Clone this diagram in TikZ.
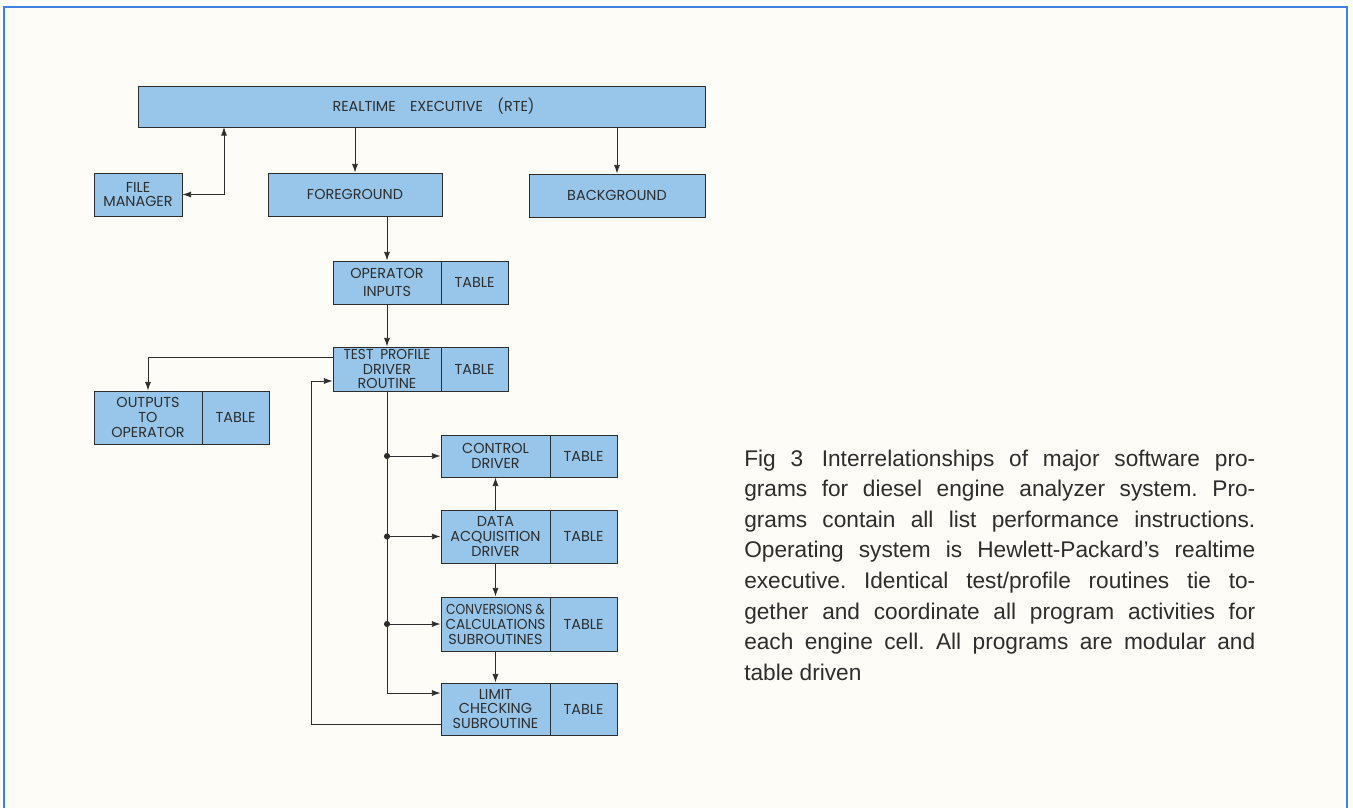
\documentclass[tikz,border=0pt]{standalone}
\usepackage{fontspec}
\usepackage{graphicx}
\setmainfont{Poppins}
\newfontfamily\capfont{Liberation Sans}
\usetikzlibrary{arrows.meta,calc}
\definecolor{boxblue}{RGB}{152,198,234}
\definecolor{frameblue}{RGB}{65,130,225}
\definecolor{ink}{RGB}{45,45,45}
\definecolor{paper}{RGB}{253,252,246}
\begin{document}
\frenchspacing
\begin{tikzpicture}[x=0.75pt,y=-0.75pt,
  sz/.style 2 args={minimum width=#1*0.75pt,minimum height=#2*0.75pt},
  blk/.style={draw=ink,line width=0.7pt,fill=boxblue,inner sep=0pt,align=center,
    font=\fontsize{10.8}{11.2}\selectfont,text=ink},
  link/.style={draw=ink,line width=0.65pt},
  arr/.style={link,-{Latex[length=6.5pt,width=4.5pt]}},
  darr/.style={link,{Latex[length=6.5pt,width=4.5pt]}-{Latex[length=6.5pt,width=4.5pt]}},
  capline/.style={anchor=base west,inner sep=0pt,text=ink,font=\capfont\fontsize{17}{20}\selectfont}]
\fill[paper] (0,0) rectangle (1353,808);
\useasboundingbox (0,0) rectangle (1353,808);
\draw[frameblue,line width=2pt] (4,808) -- (4,7) -- (1347,7) -- (1347,808);

% top level
\node[blk,sz={567}{41}] (rte) at (421.5,106.5) {\hspace*{18pt}REALTIME\quad EXECUTIVE\quad (RTE)};
\node[blk,sz={88}{43}] (fm) at (138,194.5) {FILE\\MANAGER};
\node[blk,sz={174}{43}] (fg) at (355,194.5) {FOREGROUND};
\node[blk,sz={176}{43}] (bg) at (617,195.5) {BACKGROUND};

% program boxes with tables
\node[blk,sz={108}{43}] (opinL) at (387,282.5) {OPERATOR\\[2.5pt]INPUTS};
\node[blk,sz={67}{43}] (opinT) at (474.5,282.5) {TABLE};
\node[blk,sz={108}{44}] (tpL) at (387,369) {\scalebox{0.95}[1]{TEST\enspace PROFILE}\\DRIVER\\ROUTINE};
\node[blk,sz={67}{44}] (tpT) at (474.5,369) {TABLE};
\node[blk,sz={108}{53}] (outL) at (148,417.5) {OUTPUTS\\TO\\OPERATOR};
\node[blk,sz={67}{53}] (outT) at (235.5,417.5) {TABLE};
\node[blk,sz={109}{42}] (cdL) at (495.5,456) {CONTROL\\DRIVER};
\node[blk,sz={67}{42}] (cdT) at (583.5,456) {TABLE};
\node[blk,sz={109}{53}] (daL) at (495.5,536.5) {DATA\\ACQUISITION\\DRIVER};
\node[blk,sz={67}{53}] (daT) at (583.5,536.5) {TABLE};
\node[blk,sz={109}{54}] (ccL) at (495.5,624) {\scalebox{0.86}[1]{CONVERSIONS \&}\\\scalebox{0.95}[1]{CALCULATIONS}\\SUBROUTINES};
\node[blk,sz={67}{54}] (ccT) at (583.5,624) {TABLE};
\node[blk,sz={109}{52}] (lcL) at (495.5,709) {LIMIT\\CHECKING\\SUBROUTINE};
\node[blk,sz={67}{52}] (lcT) at (583.5,709) {TABLE};

% connectors
\coordinate (fmup) at (224,127);
\draw[darr] (fm.east) -| (fmup);
\draw[arr] (fg.north |- rte.south) -- (fg.north);
\draw[arr] (bg.north |- rte.south) -- (bg.north);
\draw[arr] (opinL.north |- fg.south) -- (opinL.north);
\draw[arr] (opinL.south) -- (tpL.north);
\draw[arr] ([yshift=9pt]tpL.west) -| (outL.north);
\coordinate (ret) at (311,381);
\draw[arr] ([yshift=-11.25pt]lcL.west) -| (ret) -- ([yshift=-9pt]tpL.west);
\draw[arr] (tpL.south) |- ([yshift=12pt]lcL.west);
\foreach \b in {cdL,daL,ccL}{
  \draw[arr] (tpL.south |- \b.west) -- (\b.west);
  \fill[ink] (tpL.south |- \b.west) circle (2.3pt);
}
\draw[arr] (daL.north) -- (cdL.south);
\draw[arr] (daL.south) -- (ccL.north);
\draw[arr] (ccL.south) -- (lcL.north);

% caption
\node[capline] (cap1) at (744,466) {\makebox[383.25pt][s]{Fig 3\hspace{14pt}Interrelationships of major software pro-}};
\node[capline] (cap2) at (744,496.6) {\makebox[383.25pt][s]{grams for diesel engine analyzer system. Pro-}};
\node[capline] (cap3) at (744,527.2) {\makebox[383.25pt][s]{grams contain all list performance instructions.}};
\node[capline] (cap4) at (744,557.8) {\makebox[383.25pt][s]{Operating system is Hewlett-Packard’s realtime}};
\node[capline] (cap5) at (744,588.4) {\makebox[383.25pt][s]{executive. Identical test/profile routines tie to-}};
\node[capline] (cap6) at (744,619) {\makebox[383.25pt][s]{gether and coordinate all program activities for}};
\node[capline] (cap7) at (744,649.6) {\makebox[383.25pt][s]{each engine cell. All programs are modular and}};
\node[capline] (cap8) at (744,680.2) {table driven};
\end{tikzpicture}
\end{document}
